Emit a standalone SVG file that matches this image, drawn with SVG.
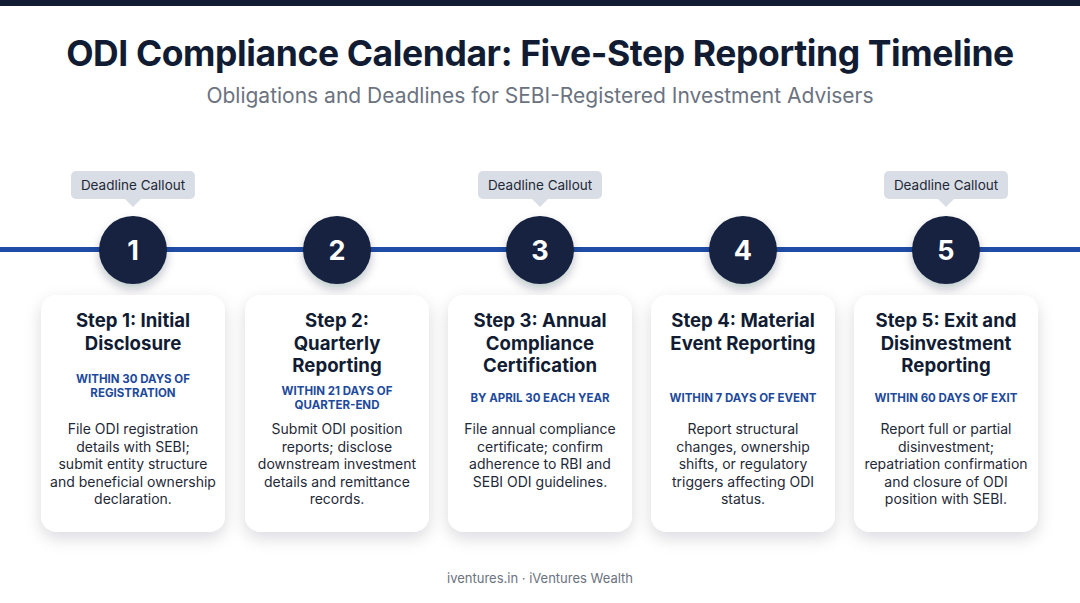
<svg xmlns="http://www.w3.org/2000/svg" width="1080" height="603" viewBox="0 0 1080 603">
<defs>
<filter id="cardShadow" x="-20%" y="-20%" width="140%" height="140%">
<feDropShadow dx="0" dy="6" stdDeviation="8" flood-color="#0f172a" flood-opacity="0.15"/>
</filter>
<filter id="circShadow" x="-40%" y="-40%" width="180%" height="180%">
<feDropShadow dx="0" dy="5" stdDeviation="5" flood-color="#0f172a" flood-opacity="0.25"/>
</filter>
<style>
text{font-family:Inter,"Liberation Sans",sans-serif;text-anchor:middle}
.title{font-size:35.5px;font-weight:700;fill:#111c33;letter-spacing:-0.4px}
.sub{font-size:21px;fill:#6b7280}
.callout{fill:#d9dee6}
.ctext{font-size:13.5px;fill:#1f2937}
.circ{fill:#13213f}
.num{font-size:27px;font-weight:700;fill:#ffffff}
.card{fill:#ffffff}
.ct{font-size:18.6px;font-weight:700;fill:#111c33}
.dl{font-size:11.5px;font-weight:700;fill:#1e4a9c}
.body{font-size:14px;fill:#1f2937}
.foot{font-size:13px;fill:#6b7280}
</style>
</defs>
<rect x="0" y="0" width="1080" height="603" fill="#ffffff"/>
<rect x="0" y="0" width="1080" height="6" fill="#111c33"/>
<text class="title" x="540" y="66">ODI Compliance Calendar: Five-Step Reporting Timeline</text>
<text class="sub" x="540" y="103">Obligations and Deadlines for SEBI-Registered Investment Advisers</text>

<g id="connectors">
<rect x="0" y="247" width="1080" height="5" fill="#1f4ca6"/>
</g>

<g id="callout1">
<rect class="callout" x="71" y="171" width="124" height="28" rx="5"/>
<path class="callout" d="M125 199 L133 207 L141 199 Z"/>
<text class="ctext" x="133" y="190">Deadline Callout</text>
</g>
<g id="callout3">
<rect class="callout" x="478" y="171" width="124" height="28" rx="5"/>
<path class="callout" d="M532 199 L540 207 L548 199 Z"/>
<text class="ctext" x="540" y="190">Deadline Callout</text>
</g>
<g id="callout5">
<rect class="callout" x="884" y="171" width="124" height="28" rx="5"/>
<path class="callout" d="M938 199 L946 207 L954 199 Z"/>
<text class="ctext" x="946" y="190">Deadline Callout</text>
</g>

<g id="marker1"><circle class="circ" cx="133" cy="250" r="34" filter="url(#circShadow)"/><text class="num" x="133" y="260">1</text></g>
<g id="marker2"><circle class="circ" cx="337" cy="250" r="34" filter="url(#circShadow)"/><text class="num" x="337" y="260">2</text></g>
<g id="marker3"><circle class="circ" cx="540" cy="250" r="34" filter="url(#circShadow)"/><text class="num" x="540" y="260">3</text></g>
<g id="marker4"><circle class="circ" cx="743" cy="250" r="34" filter="url(#circShadow)"/><text class="num" x="743" y="260">4</text></g>
<g id="marker5"><circle class="circ" cx="946" cy="250" r="34" filter="url(#circShadow)"/><text class="num" x="946" y="260">5</text></g>

<g id="step1">
<rect class="card" x="41" y="295" width="184" height="237" rx="16" filter="url(#cardShadow)"/>
<text class="ct" x="133" y="327">Step 1: Initial</text>
<text class="ct" x="133" y="350">Disclosure</text>
<text class="dl" x="133" y="383">WITHIN 30 DAYS OF</text>
<text class="dl" x="133" y="397">REGISTRATION</text>
<text class="body" x="133" y="434">File ODI registration</text>
<text class="body" x="133" y="452">details with SEBI;</text>
<text class="body" x="133" y="469">submit entity structure</text>
<text class="body" x="133" y="487">and beneficial ownership</text>
<text class="body" x="133" y="504">declaration.</text>
</g>

<g id="step2">
<rect class="card" x="245" y="295" width="184" height="237" rx="16" filter="url(#cardShadow)"/>
<text class="ct" x="337" y="327">Step 2:</text>
<text class="ct" x="337" y="350">Quarterly</text>
<text class="ct" x="337" y="372">Reporting</text>
<text class="dl" x="337" y="395">WITHIN 21 DAYS OF</text>
<text class="dl" x="337" y="409">QUARTER-END</text>
<text class="body" x="337" y="434">Submit ODI position</text>
<text class="body" x="337" y="452">reports; disclose</text>
<text class="body" x="337" y="469">downstream investment</text>
<text class="body" x="337" y="487">details and remittance</text>
<text class="body" x="337" y="504">records.</text>
</g>

<g id="step3">
<rect class="card" x="448" y="295" width="184" height="237" rx="16" filter="url(#cardShadow)"/>
<text class="ct" x="540" y="327">Step 3: Annual</text>
<text class="ct" x="540" y="350">Compliance</text>
<text class="ct" x="540" y="372">Certification</text>
<text class="dl" x="540" y="402">BY APRIL 30 EACH YEAR</text>
<text class="body" x="540" y="434">File annual compliance</text>
<text class="body" x="540" y="452">certificate; confirm</text>
<text class="body" x="540" y="469">adherence to RBI and</text>
<text class="body" x="540" y="487">SEBI ODI guidelines.</text>
</g>

<g id="step4">
<rect class="card" x="651" y="295" width="184" height="237" rx="16" filter="url(#cardShadow)"/>
<text class="ct" x="743" y="327">Step 4: Material</text>
<text class="ct" x="743" y="350">Event Reporting</text>
<text class="dl" x="743" y="402">WITHIN 7 DAYS OF EVENT</text>
<text class="body" x="743" y="434">Report structural</text>
<text class="body" x="743" y="452">changes, ownership</text>
<text class="body" x="743" y="469">shifts, or regulatory</text>
<text class="body" x="743" y="487">triggers affecting ODI</text>
<text class="body" x="743" y="504">status.</text>
</g>

<g id="step5">
<rect class="card" x="854" y="295" width="184" height="237" rx="16" filter="url(#cardShadow)"/>
<text class="ct" x="946" y="327">Step 5: Exit and</text>
<text class="ct" x="946" y="350">Disinvestment</text>
<text class="ct" x="946" y="372">Reporting</text>
<text class="dl" x="946" y="402">WITHIN 60 DAYS OF EXIT</text>
<text class="body" x="946" y="434">Report full or partial</text>
<text class="body" x="946" y="452">disinvestment;</text>
<text class="body" x="946" y="469">repatriation confirmation</text>
<text class="body" x="946" y="487">and closure of ODI</text>
<text class="body" x="946" y="504">position with SEBI.</text>
</g>

<text class="foot" x="540" y="583">iventures.in · iVentures Wealth</text>
</svg>
